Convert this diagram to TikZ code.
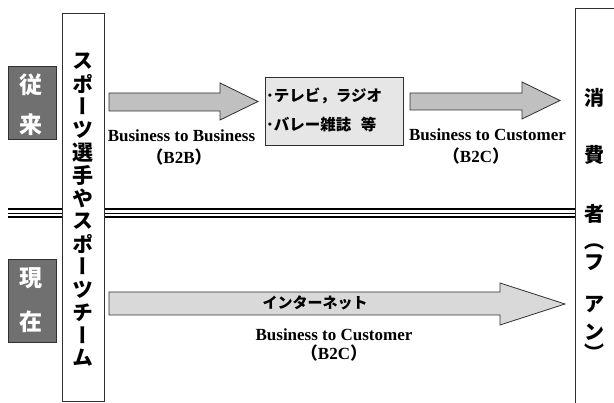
\documentclass[tikz,border=0pt]{standalone}
\usepackage{fontspec}
\setmainfont{Liberation Serif}
\newfontfamily\jp{Noto Sans CJK JP}
\newfontfamily\jpv{Noto Sans CJK JP}[RawFeature=+vert]
\definecolor{darkfill}{HTML}{707070}
\definecolor{arrowfill}{HTML}{C0C0C0}
\definecolor{netfill}{HTML}{D9D9D9}
\definecolor{mediafill}{HTML}{E6E6E6}
\definecolor{edge}{HTML}{303030}
\begin{document}
\begin{tikzpicture}[x=1pt,y=-1pt,
  darkbox/.style={draw=edge,line width=0.8pt,fill=darkfill,inner sep=0pt},
  wbox/.style={draw=edge,line width=0.8pt,fill=white,inner sep=0pt},
  mediabox/.style={draw=edge,line width=0.8pt,fill=mediafill,inner sep=0pt},
  blockarrow/.style={draw=edge,line width=0.8pt,line join=miter},
  sepline/.style={draw=black},
  whitech/.style={inner sep=0pt,text=white,font=\jp\bfseries\fontsize{23}{23}\selectfont},
  vch/.style={inner sep=0pt,font=\jpv\bfseries\fontsize{21}{21}\selectfont},
  fanch/.style={inner sep=0pt,font=\jp\bfseries\fontsize{20}{20}\selectfont},
  medtxt/.style={inner sep=0pt,anchor=west,font=\jp\bfseries\fontsize{15.5}{15.5}\selectfont},
  lbl/.style={inner sep=0pt,font=\bfseries\fontsize{17}{17}\selectfont},
  plbl/.style={inner sep=0pt,font=\bfseries\fontsize{17}{17}\selectfont}
]
\useasboundingbox (0,0) rectangle (614,403);

% separator lines
\draw[sepline,line width=2pt] (8,209.5) -- (62,209.5) (104,209.5) -- (575,209.5);
\draw[sepline,line width=1.1pt] (8,213.3) -- (62,213.3) (104,213.3) -- (575,213.3);
\draw[sepline,line width=2pt] (8,217) -- (62,217) (104,217) -- (575,217);

% boxes
\node[darkbox,minimum width=48,minimum height=73] (old) at (32,102.5) {};
\node[darkbox,minimum width=48,minimum height=83] (now) at (32,300.5) {};
\node[wbox,minimum width=42,minimum height=388] (players) at (83,207) {};
\node[wbox,minimum width=70,minimum height=420,anchor=north west] (fans) at (575,8) {};
\node[mediabox,minimum width=138,minimum height=68] (media) at (334,111) {};

% old / now labels
\node[whitech] (o1) at (31,85) {従};
\node[whitech] (o2) at (31,125) {来};
\node[whitech] (n1) at (31,278) {現};
\node[whitech] (n2) at (31,322) {在};

% players vertical text
\foreach \ch [count=\i] in {ス,ポ,ー,ツ,選,手,や,ス,ポ,ー,ツ,チ,ー,ム}
  \node[vch] (p\i) at (83,{61+22.85*(\i-1)}) {\ch};

% fans vertical text
\node[fanch] (f1) at (594,98) {消};
\node[fanch] (f2) at (594,155) {費};
\node[fanch] (f3) at (594,214) {者};
\node[fanch] (f4) at (594,247) {︵};
\node[fanch] (f5) at (594,263) {フ};
\node[fanch] (f6) at (594,305) {ア};
\node[fanch] (f7) at (594,332) {ン};
\node[fanch] (f8) at (594,352) {︶};

% media text
\node[medtxt] (m1) at (266,96) {･テレビ，ラジオ};
\node[medtxt] (m2) at (266,125) {･バレー雑誌\hspace{0.6em}等};

% block arrows
\draw[blockarrow,fill=arrowfill] (109,93) -- (220,93) -- (220,83) -- (258,101.5) -- (220,120) -- (220,111) -- (109,111) -- cycle;
\draw[blockarrow,fill=arrowfill] (410,93) -- (522,93) -- (522,82) -- (560,100.5) -- (522,119) -- (522,110) -- (410,110) -- cycle;
\draw[blockarrow,fill=netfill] (109,292) -- (500,292) -- (500,283) -- (565,304) -- (500,325) -- (500,315) -- (109,315) -- cycle;
\node[inner sep=0pt,font=\jp\bfseries\fontsize{15}{15}\selectfont] (net) at (315,303) {インターネット};

% business labels
\node[lbl] (b2b) at (181.5,136) {Business to Business};
\node[plbl] (b2bp) at (179,157) {{\jp （}B2B{\jp ）}};
\node[lbl] (b2c1) at (487.5,135) {Business to Customer};
\node[plbl] (b2c1p) at (476,156) {{\jp （}B2C{\jp ）}};
\node[lbl] (b2c2) at (334,335) {Business to Customer};
\node[plbl] (b2c2p) at (334,353) {{\jp （}B2C{\jp ）}};
\end{tikzpicture}
\end{document}
